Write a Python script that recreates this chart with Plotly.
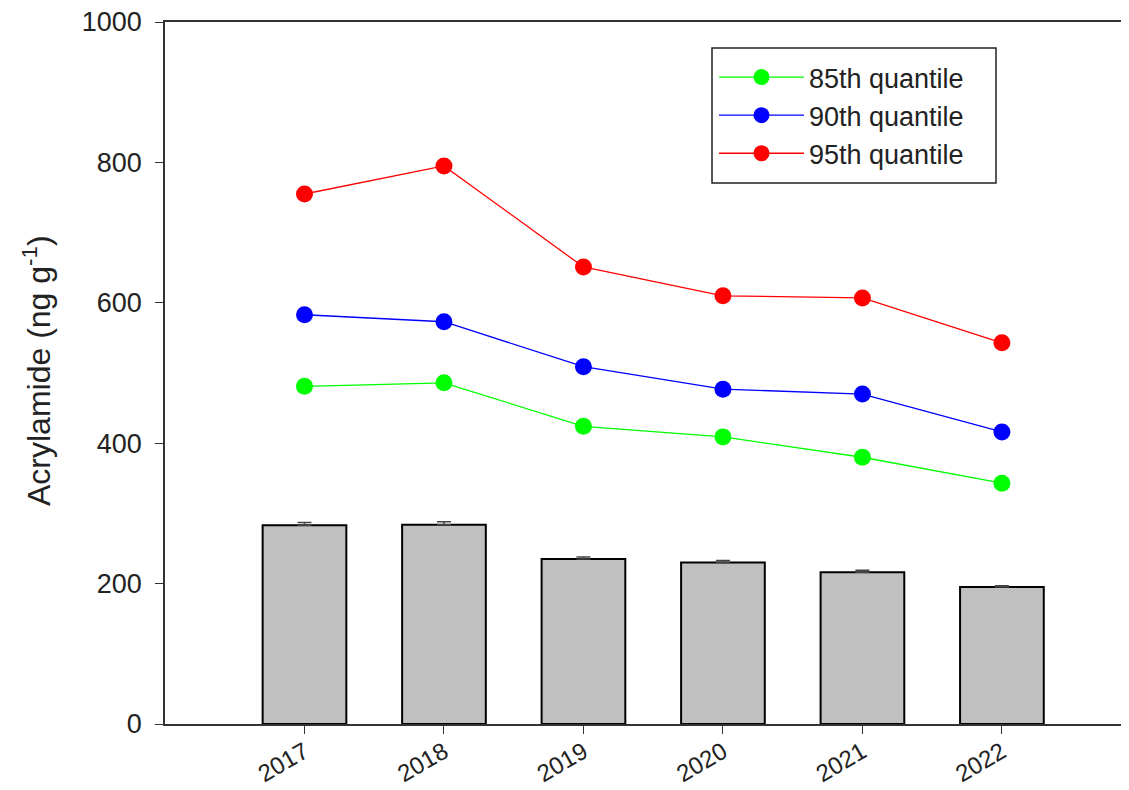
import plotly.graph_objects as go

years = ["2017", "2018", "2019", "2020", "2021", "2022"]
mean_vals = [283, 284, 235, 230, 216, 195]
mean_err = [4, 4, 3, 3, 3, 2]
q85 = [481, 486, 424, 409, 380, 343]
q90 = [583, 573, 509, 477, 470, 416]
q95 = [755, 795, 651, 610, 607, 543]
y_ticks = [0, 200, 400, 600, 800, 1000]

FONT = "Liberation Sans, Arial, sans-serif"
x_idx = list(range(len(years)))

# page offset (body margin) is ~8px; work in page pixel coords
OFF = 8
W, H = 1121, 782
PL, PR, PT, PB = 165, 1129, 22, 724  # plot area in page pixels


def fx(px):
    return (px - PL) / (PR - PL)


def fy(py):
    return 1 - (py - PT) / (PB - PT)


fig = go.Figure()
fig.add_trace(go.Bar(
    x=x_idx, y=mean_vals, width=0.6,
    marker=dict(color="#c0c0c0", line=dict(color="black", width=2)),
    error_y=dict(type="data", array=mean_err, arrayminus=[0] * len(mean_err),
                 symmetric=False, visible=True, color="#444", thickness=1.5, width=7),
    showlegend=False,
))
for name, vals, col in [("85th quantile", q85, "#00ff00"),
                        ("90th quantile", q90, "#0000ff"),
                        ("95th quantile", q95, "#ff0000")]:
    fig.add_trace(go.Scatter(
        x=x_idx, y=vals, mode="lines+markers", name=name,
        line=dict(color=col, width=1.3),
        marker=dict(color=col, size=17),
    ))

fig.update_layout(
    width=W, height=H,
    margin=dict(l=PL - OFF, r=(OFF + W) - PR, t=PT - OFF, b=(OFF + H) - PB,
                autoexpand=False),
    plot_bgcolor="white", paper_bgcolor="white",
    font=dict(family=FONT, size=26, color="#222"),
    legend=dict(
        x=fx(714), y=fy(53),
        xanchor="left", yanchor="top",
        borderwidth=0, bgcolor="rgba(0,0,0,0)",
        font=dict(size=27, color="#222"),
        traceorder="normal", itemwidth=85,
    ),
    xaxis=dict(
        range=[-1.0, (PR - 305) / 139.4],
        tickvals=x_idx, ticktext=years, tickangle=-30,
        ticks="outside", ticklen=8, tickcolor="#333",
        showline=True, linecolor="#333", linewidth=1.5, mirror=True,
        showgrid=False, zeroline=False, automargin=False,
        ticklabeloverflow="allow", ticklabelstandoff=-5,
        tickfont=dict(size=24, color="#222"),
    ),
    yaxis=dict(
        range=[0, 1000], tickvals=y_ticks,
        ticks="outside", ticklen=8, tickcolor="#333",
        showline=True, linecolor="#333", linewidth=1.5,
        showgrid=False, zeroline=False, automargin=False,
        ticklabeloverflow="allow", ticklabelstandoff=8,
        tickfont=dict(size=27, color="#222"),
    ),
    shapes=[dict(
        type="rect", xref="paper", yref="paper",
        x0=fx(712), x1=fx(996), y0=fy(183), y1=fy(48),
        line=dict(color="#222", width=1.5), fillcolor="rgba(0,0,0,0)",
    )],
    annotations=[dict(
        text="Acrylamide (ng g<sup>-1</sup>)", textangle=-90,
        x=fx(37), xref="paper", y=fy(371), yref="paper", showarrow=False,
        xanchor="center", yanchor="middle",
        font=dict(size=32, color="#222"),
    )],
)

fig.write_html("out.html")
